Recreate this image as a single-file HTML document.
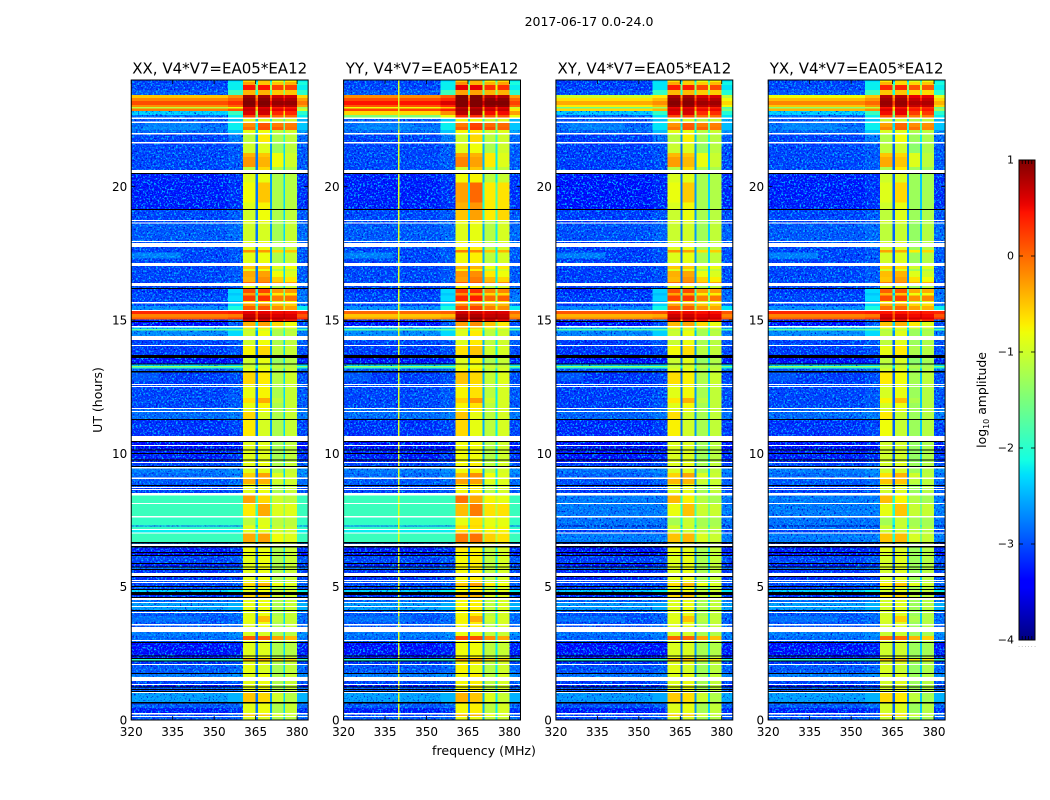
<!DOCTYPE html>
<html lang="en">
<head>
<meta charset="utf-8">
<title>2017-06-17 0.0-24.0</title>
<style>
html,body{margin:0;padding:0;background:#fff;}
svg{display:block;font-family:"DejaVu Sans","Liberation Sans",sans-serif;}
</style>
</head>
<body>
<svg id="figure" xmlns="http://www.w3.org/2000/svg" width="1050" height="800" viewBox="0 0 1050 800">
  <defs>
    <filter id="speckle" filterUnits="userSpaceOnUse" x="0" y="0" width="1050" height="800" color-interpolation-filters="sRGB">
      <feTurbulence type="fractalNoise" baseFrequency="0.55" numOctaves="2" seed="7" result="n"/>
      <feColorMatrix in="n" type="matrix" values="0 0 0 0 0  0 0 0 0 0.72  0 0 0 0 1  5 0 0 0 -2.55" result="light"/>
      <feColorMatrix in="n" type="matrix" values="0 0 0 0 0  0 0 0 0 0  0 0 0 0 0.8  0 5 0 0 -2.9" result="dark"/>
      <feMerge result="m"><feMergeNode in="dark"/><feMergeNode in="light"/></feMerge>
      <feComposite in="m" in2="SourceAlpha" operator="in"/>
    </filter>
    <linearGradient id="colorbar-gradient" x1="0" y1="1" x2="0" y2="0"></linearGradient>
  </defs>
  <rect x="0" y="0" width="1050" height="800" fill="#fff"/>
  <text x="589" y="26" text-anchor="middle" font-size="12.5">2017-06-17 0.0-24.0</text>
  <text x="0" y="0" transform="translate(102 400) rotate(-90)" text-anchor="middle" font-size="12.5">UT (hours)</text>
  <text x="484" y="755" text-anchor="middle" font-size="12.6">frequency (MHz)</text>
  <text transform="translate(986 400) rotate(-90)" text-anchor="middle" font-size="12.4">log<tspan font-size="8" dy="3">10</tspan><tspan dy="-3"> amplitude</tspan></text>
  <g id="panels"></g>
  <g id="colorbar"></g>
</svg>
<script>
// ---------- chart data ----------
const panelNames = ['XX', 'YY', 'XY', 'YX'];
const panelTitleSuffix = ', V4*V7=EA05*EA12';
const freqTicks = [320, 335, 350, 365, 380];
const hourTicks = [0, 5, 10, 15, 20];
const colorTicks = [1, 0, -1, -2, -3, -4];
const colorTickLabels = ['1', '0', '\u22121', '\u22122', '\u22123', '\u22124'];
const freqRange = [320, 384];
const hourRange = [0, 24];
const colorRange = [-4, 1];
// frequency zones (MHz): low, ramp, s1, gap, s2, gap, s3, gap, s4, edge
const freqEdges = [320, 355, 360.4, 365, 365.8, 370.2, 370.9, 375, 375.7, 380, 384];
const quietBand = [-0.88, -0.82, -1.2, -1.05];
const quietGap = -2.6;
const gapOffsets = [-0.2, 0, 0.3];
const BLACK = -9;
// Time bands, top-down. Each starts at the listed hour and ends at the next row's hour.
// [hour] = blank (white); [hour,BLACK] = black line; [hour,low] = quiet band;
// [hour,low,s1,s2,s3,s4]; [hour,low,ramp,s1,s2,s3,s4,gap,edge]
const bandRows = [
[24.00,-3.1,-2.3,-0.6,-0.5,-0.8,-0.7,-2.2,-2.2],
[23.93,-3.1,-2.2,-0.3,-0.5,-0.5,-0.4,-1.8,-2.1],
[23.81,-3.1,-2.2,0.45,0.45,0.2,0.2,-1.2,-2.2],
[23.63,-3.0,-1.9,-0.4,-0.4,-0.5,-0.5,-1.8,-2.0],
[23.44,-0.5,-0.2,0.85,0.85,0.65,0.65,0,-0.6],
[23.33,-0.15,0.05,0.95,0.95,0.8,0.8,0.2,-0.3],
[23.21,0.15,0.3,1.0,1.0,0.9,0.9,0.5,-0.1],
[23.06,-0.2,0.05,0.95,0.95,0.8,0.8,0.3,-0.3],
[22.99,-1.1,-0.8,0.55,0.55,0.4,0.4,-0.4,-1.3],
[22.93,-0.1,0.1,0.7,0.7,0.55,0.55,-0.2,-1.0],
[22.84,-2.3,-1.9,0.6,0.65,0.35,0.35,-1,-2.0],
[22.69,-2.9,-2.2,0.2,0.2,0,0,-1.4,-2.2],
[22.59],
[22.54,-3.0,-2.4,-0.9,-0.9,-1.1,-1.0,-2.2,-2.5],
[22.44],
[22.39,-2.9,-2.2,-0.2,0.1,-0.1,-0.1,-2,-2.4],
[22.24,-2.8,-2.2,-0.05,0.15,0.05,-0.05,-1.9,-2.4],
[22.13,-2.9,-2.4,-0.85,-0.8,-1.1,-1.0,-2.2,-2.6],
[22.01],
[21.96,-3.1,-2.8,-1.1,-0.7,-1.2,-1.1,-2.4,-2.9],
[21.68],
[21.62,-3.1,-1.0,-0.9,-1.3,-1.1],
[21.26,-3.1,-0.4,-0.5,-0.8,-1.0],
[21.11,-3.1,-0.25,-0.4,-0.8,-1.0],
[20.74,-3.1,-1.1,-0.6,-1.2,-1.2],
[20.63],
[20.51,BLACK],
[20.48,-3.3,-0.9,-0.85,-1.2,-1.15],
[20.15,-3.3,-0.8,-0.5,-1.2,-1.15],
[19.40,-3.3,-0.9,-0.75,-1.2,-1.15],
[19.16,BLACK],
[19.13,-3.1,-1.0,-0.8,-1.2,-1.1],
[18.75],
[18.71,-3.1],
[18.66],
[18.62,-3.0,-1.0,-0.95,-1.25,-1.05],
[17.96],
[17.93,-3.0],
[17.89],
[17.74,-3.1],
[17.63,-3.1,-0.2,-0.25,-0.6,-0.5],
[17.53,-3.1],
[17.14],
[17.03,-3.1,-0.5,-0.5,-0.9,-0.8],
[16.91,-3.1],
[16.84,-3.1,-0.35,-0.3,-0.8,-0.9],
[16.61,-3.1,-0.4,-0.2,-0.55,-0.7],
[16.43,-3.1,0,0,-0.3,-0.3],
[16.39],
[16.28,-3.1],
[16.20,BLACK],
[16.16,-3.2,-2.3,0.15,0.2,-0.25,-0.25,-1.7,-2.9],
[16.01,-3.1,-2.4,-0.3,-0.4,-0.7,-0.7,-2.2,-2.9],
[15.92,-3.1,-2.3,0.25,0.3,-0.1,-0.05,-1.5,-2.8],
[15.71,-3.1,-2.5,-0.7,-0.7,-0.9,-0.8,-2.2,-2.8],
[15.68],
[15.62,-3.1,-2.3,-0.3,-0.25,-0.5,-0.55,-1.9,-2.8],
[15.53,-2.7,-2.1,0.05,0.1,-0.2,-0.3,-1.3,-2.2],
[15.38],
[15.34,0.35,0.4,0.55,0.55,0.5,0.5,0.3,0.35],
[15.22,-0.15,-0.1,0.7,0.7,0.6,0.6,0.4,0.1],
[15.09,0.05,0.2,0.85,0.85,0.75,0.7,0.5,0.3],
[15.02,-3.3,-2.8,0.6,0.55,0.5,0.4,-0.3,-3.0],
[14.96,BLACK],
[14.93,-3.4,-3.0,-0.4,-0.3,-0.6,-0.8,-2,-3.1],
[14.78],
[14.72,-2.4,-2.4,-0.7,-0.7,-0.9,-0.9,-2.2,-2.5],
[14.66,-1.7,-1.7,-1.1,-1.0,-1.2,-1.2,-2,-1.8],
[14.61,-2.7,-2.3,-1.0,-0.8,-1.2,-1.1,-2.4,-2.8],
[14.40],
[14.25,-3.1,-1.0,-0.8,-1.2,-1.1],
[14.06],
[14.03,-3.15,-0.75,-0.6,-1.1,-1.05],
[13.69,BLACK],
[13.58,-3.4,-1.0,-0.85,-1.3,-1.15],
[13.37,BLACK],
[13.33,-2.3,-2.3,-1.1,-1.0,-1.2,-1.2,-2.2,-2.3],
[13.28,-1.3,-1.3,-1.0,-0.9,-1.1,-1.1,-1.8,-1.4],
[13.24,-1.9,-1.9,-1.0,-0.9,-1.1,-1.1,-2,-2.0],
[13.18,-3.0],
[13.09,BLACK],
[13.03,-3.15,-0.6,-0.7,-1.15,-1.0],
[12.60],
[12.56,-3.1],
[12.53],
[12.49,-3.1,-0.85,-0.75,-1.2,-1.05],
[12.08,-3.1,-0.65,-0.35,-1.1,-1.05],
[11.89,-3.1,-0.85,-0.75,-1.2,-1.05],
[11.70],
[11.66,-2.9],
[11.59],
[11.55,-2.9,-0.6,-0.95,-1.2,-1.05],
[11.29,BLACK],
[11.25,-3.2,-0.7,-0.95,-1.2,-1.05],
[10.65],
[10.46,BLACK],
[10.43,-3.4,-0.9,-0.9,-1.25,-1.1],
[10.31],
[10.28,-3.5,-0.9,-0.9,-1.25,-1.1],
[10.14,BLACK],
[10.11,-3.3,-0.9,-0.9,-1.25,-1.1],
[10.01,BLACK],
[9.98,-3.3,-0.9,-0.9,-1.25,-1.1],
[9.77,BLACK],
[9.73,-3.3,-0.9,-0.9,-1.25,-1.1],
[9.68],
[9.64,-3.1],
[9.53,BLACK],
[9.49],
[9.43,-2.8,-0.9,-0.85,-1.2,-1.05],
[9.26,-2.9,-0.55,-0.3,-0.9,-1.0],
[9.09],
[9.04,-3.0,-0.4,-0.4,-1.0,-1.0],
[8.85,-3.0,-0.85,-0.85,-1.2,-1.05],
[8.81,BLACK],
[8.78,-3.1],
[8.74],
[8.70,-3.2],
[8.66],
[8.63,-3.1],
[8.51],
[8.42,-1.9,-1.9,-0.3,-0.6,-1.0,-1.1,-1.7,-1.9],
[8.14],
[8.10,-1.9,-1.9,-0.7,-0.35,-0.9,-0.9,-1.7,-1.9],
[7.65],
[7.59,-1.95,-1.95,-1.1,-0.9,-1.1,-1.1,-1.8,-1.95],
[7.29,-2.9,-2.9,-0.8,-0.8,-1.1,-1.1,-2.4,-2.9],
[7.26,-1.95,-1.95,-0.9,-0.9,-1.0,-1.0,-1.8,-1.95],
[7.16],
[7.13,-2.2,-2.2,-0.9,-0.9,-1.0,-1.0,-2,-2.2],
[7.03],
[6.99,-1.9,-1.9,-0.35,-0.3,-0.8,-0.9,-1.7,-1.9],
[6.68,BLACK],
[6.62,-2.8],
[6.60],
[6.53,BLACK],
[6.47,-3.3,-0.8,-0.85,-1.2,-1.05],
[6.30,BLACK],
[6.26,-3.5],
[6.19,BLACK],
[6.15,-3.1],
[5.89,BLACK],
[5.85,-3.3],
[5.76,BLACK],
[5.72,-2.9],
[5.66,BLACK],
[5.63,-3.2],
[5.51],
[5.40,BLACK],
[5.36,-3.2],
[5.25],
[5.21,-3.0],
[5.18],
[5.14,-3.1,-0.6,-0.4,-0.8,-0.9],
[5.03,BLACK],
[4.99,-3.1],
[4.91,BLACK],
[4.88,-2.3,-0.9,-0.8,-1.1,-1.0],
[4.80,BLACK],
[4.69,-3.2,-0.6,-0.5,-1.0,-1.0],
[4.61,BLACK],
[4.58],
[4.50,-2.9],
[4.43],
[4.39,-2.6],
[4.28],
[4.24,-2.6],
[4.13,BLACK],
[4.09,-3.0],
[4.05],
[4.01,-3.0],
[3.90,-3.0,-0.85,-0.45,-1.1,-1.05],
[3.68,-3.0],
[3.60],
[3.54,-3.0],
[3.49],
[3.30,-2.8,-0.95,-0.95,-1.2,-1.15],
[3.15,-2.9,0.05,0.05,-0.3,-0.45],
[3.00],
[2.96,-3.0],
[2.93,BLACK],
[2.89,-3.4,-0.9,-0.9,-1.2,-1.15],
[2.42,BLACK],
[2.38,-3.3],
[2.33,BLACK],
[2.29,-2.0,-0.3,-0.3,-0.6,-0.6],
[2.23,BLACK],
[2.19,-3.2],
[2.10],
[2.06,-3.0,-0.85,-0.95,-1.25,-1.1],
[1.76,BLACK],
[1.73,-2.8],
[1.61],
[1.46,-3.1],
[1.35],
[1.31,-3.4],
[1.26,BLACK],
[1.22,-3.0],
[1.16,BLACK],
[1.13,-3.0],
[1.09,BLACK],
[1.05],
[1.01,-2.6,-0.5,-0.6,-1.0,-1.15],
[0.68,BLACK],
[0.62,-3.0],
[0.45,-3.3],
[0.26],
[0.21,-3.1,-0.5,-0.5,-0.9,-1.0],
[0.15],
[0.11,-3.0,-0.95,-0.95,-1.2,-1.15]
];
// Per-panel adjustments: [hourFrom, hourTo, lowDelta, bandDelta]
const xxAdjust = [];
const yyAdjust = [
  [24, 0, 0, 0.1],
  [23.5, 22.7, 0.3, 0.05],
  [22.86, 22.6, 1.4, 0],
  [20.4, 18.9, 0, 0.4],
  [15.35, 15.03, -0.35, 0],
  [8.5, 6.6, 0, 0.15]
];
const xyAdjust = [
  [24, 0, -0.05, -0.03],
  [23.5, 22.9, -0.45, 0],
  [8.5, 6.6, -0.85, -0.1],
  [15.35, 15.03, -0.2, 0]
];
const yxAdjust = [
  [24, 0, 0, -0.1],
  [23.5, 22.9, -0.3, 0],
  [8.5, 6.6, -0.9, -0.05]
];
const panelAdjust = [xxAdjust, yyAdjust, xyAdjust, yxAdjust];
// Low-frequency patches: [hourTop, hourBottom, freqFrom, freqTo, level]
const lowPatches = [
  [17.53, 17.30, 320, 338, -2.4],
  [22.39, 22.13, 325, 345, -2.6],
  [3.90, 3.68, 320, 345, -2.7],
  [13.03, 12.70, 320, 330, -2.8]
];
// Narrow RFI channels per panel: [freq, level]
const panelRfi = [[], [[339.7, -0.9]], [], []];

// jet colormap knots
const jetR = [[0, 0], [0.35, 0], [0.66, 1], [0.89, 1], [1, 0.5]];
const jetG = [[0, 0], [0.125, 0], [0.375, 1], [0.64, 1], [0.91, 0], [1, 0]];
const jetB = [[0, 0.5], [0.11, 1], [0.34, 1], [0.65, 0], [1, 0]];

// ---------- geometry and scales ----------
const panelLefts = [131.25, 343.6, 555.9, 768.2];
const panelWidth = 176.9;
const plotTop = 80, plotBottom = 720;
const cbLeft = 1019, cbRight = 1035, cbTop = 160, cbBottom = 640;
const NS = 'http://www.w3.org/2000/svg';

function fx(panel, f) { return panelLefts[panel] + (f - freqRange[0]) / (freqRange[1] - freqRange[0]) * panelWidth; }
function hy(h) { return plotBottom - (h - hourRange[0]) / (hourRange[1] - hourRange[0]) * (plotBottom - plotTop); }
function cy(v) { return cbBottom - (v - colorRange[0]) / (colorRange[1] - colorRange[0]) * (cbBottom - cbTop); }
function knot(table, t) {
  for (let i = 1; i < table.length; i++) {
    if (t <= table[i][0]) {
      const a = table[i - 1], b = table[i];
      return a[1] + (b[1] - a[1]) * (t - a[0]) / (b[0] - a[0]);
    }
  }
  return table[table.length - 1][1];
}
function jet(v) {
  if (v === BLACK) return '#000';
  const t = Math.max(0, Math.min(1, (v - colorRange[0]) / (colorRange[1] - colorRange[0])));
  return 'rgb(' + Math.round(knot(jetR, t) * 255) + ',' + Math.round(knot(jetG, t) * 255) + ',' + Math.round(knot(jetB, t) * 255) + ')';
}
function node(tag, attrs, parent) {
  const el = document.createElementNS(NS, tag);
  for (const k in attrs) el.setAttribute(k, attrs[k]);
  parent.appendChild(el);
  return el;
}
// Expand one row into its 10 zone values for a panel, or null when blank / black.
function zoneLevels(row, adjust) {
  let low, ramp, band, gap, edge;
  if (row.length === 2) {
    low = row[1]; ramp = low + 0.1; band = quietBand.slice(); gap = quietGap; edge = low + 0.1;
  } else if (row.length === 6) {
    low = row[1]; ramp = low + 0.1; band = row.slice(2, 6); gap = quietGap; edge = low + 0.1;
  } else {
    low = row[1]; ramp = row[2]; band = row.slice(3, 7); gap = row[7]; edge = row[8];
  }
  adjust.forEach(function (a) {
    if (row[0] <= a[0] && row[0] > a[1]) {
      low += a[2]; ramp += a[2]; edge += a[2];
      band = band.map(function (b) { return b + a[3]; });
      gap += a[3];
    }
  });
  return [low, ramp, band[0], gap + gapOffsets[0], band[1], gap + gapOffsets[1], band[2], gap + gapOffsets[2], band[3], edge];
}

// ---------- draw panels ----------
const panelsRoot = document.getElementById('panels');
panelNames.forEach(function (name, p) {
  const g = node('g', {}, panelsRoot);
  
  
  const left = fx(p, freqRange[0]), right = fx(p, freqRange[1]);

  const cells = node('g', { 'shape-rendering': 'crispEdges' }, g);
  
  
  const speckles = node('g', { filter: 'url(#speckle)', 'shape-rendering': 'crispEdges' }, g);
  
  
  const overlays = node('g', { 'shape-rendering': 'crispEdges' }, g);
  
  

  bandRows.forEach(function (row, r) {
    const top = row[0];
    const bottom = r + 1 < bandRows.length ? bandRows[r + 1][0] : hourRange[0];
    const y0 = hy(top), y1 = hy(bottom);
    if (row.length === 1) return;
    if (row[1] === BLACK) {
      const line = node('rect', { x: left, y: y0, width: right - left, height: y1 - y0, fill: '#000' }, overlays);
      
      
      return;
    }
    const levels = zoneLevels(row, panelAdjust[p]);
    levels.forEach(function (v, z) {
      const x0 = fx(p, freqEdges[z]), x1 = fx(p, freqEdges[z + 1]);
      const cell = node('rect', { x: x0, y: y0, width: x1 - x0, height: y1 - y0, fill: jet(v) }, cells);
      
      
    });
    if (levels[0] < -2.25) {
      const rightEdge = levels[1] < -2.6 ? freqEdges[2] : freqEdges[1];
      const n1 = node('rect', { x: fx(p, freqEdges[0]), y: y0, width: fx(p, rightEdge) - fx(p, freqEdges[0]), height: y1 - y0, fill: '#fff' }, speckles);
      
      
    }
    if (levels[9] < -2.5) {
      const n2 = node('rect', { x: fx(p, freqEdges[9]), y: y0, width: fx(p, freqEdges[10]) - fx(p, freqEdges[9]), height: y1 - y0, fill: '#fff' }, speckles);
      
      
    }
    panelRfi[p].forEach(function (c) {
      const rfi = node('rect', { x: fx(p, c[0]), y: y0, width: fx(p, c[0] + 0.5) - fx(p, c[0]), height: y1 - y0, fill: jet(c[1]) }, overlays);
      
      
    });
  });

  lowPatches.forEach(function (q) {
    const patch = node('rect', { x: fx(p, q[2]), y: hy(q[0]), width: fx(p, q[3]) - fx(p, q[2]), height: hy(q[1]) - hy(q[0]), fill: jet(q[4]), opacity: 0.45 }, overlays);
    
    
  });

  const frame = node('rect', { x: left, y: plotTop, width: right - left, height: plotBottom - plotTop, fill: 'none', stroke: '#000', 'stroke-width': 1 }, g);
  
  

  freqTicks.forEach(function (f) {
    const x = fx(p, f);
    const t1 = node('line', { x1: x, x2: x, y1: plotBottom, y2: plotBottom - 4, stroke: '#000', 'stroke-width': 0.8 }, g);
    
    
    const t2 = node('line', { x1: x, x2: x, y1: plotTop, y2: plotTop + 4, stroke: '#000', 'stroke-width': 0.8 }, g);
    
    
    const lab = node('text', { x: x, y: 736, 'text-anchor': 'middle', 'font-size': 12 }, g);
    lab.textContent = String(f);
    
    
  });
  hourTicks.forEach(function (h) {
    const y = hy(h);
    const t1 = node('line', { x1: left, x2: left + 4, y1: y, y2: y, stroke: '#000', 'stroke-width': 0.8 }, g);
    
    
    const t2 = node('line', { x1: right, x2: right - 4, y1: y, y2: y, stroke: '#000', 'stroke-width': 0.8 }, g);
    
    
    const lab = node('text', { x: left - 4, y: y + 4.5, 'text-anchor': 'end', 'font-size': 12 }, g);
    lab.textContent = String(h);
    
    
  });
  const title = node('text', { x: (left + right) / 2, y: 73.5, 'text-anchor': 'middle', 'font-size': 15 }, g);
  title.textContent = name + panelTitleSuffix;
  
  
});

// ---------- colorbar ----------
const gradient = document.getElementById('colorbar-gradient');
for (let i = 0; i <= 64; i++) {
  const off = i / 64;
  node('stop', { offset: off, 'stop-color': jet(colorRange[0] + off * (colorRange[1] - colorRange[0])) }, gradient);
}
const cbRoot = document.getElementById('colorbar');
const cbBody = node('rect', { x: cbLeft, y: cbTop, width: cbRight - cbLeft, height: cbBottom - cbTop, fill: 'url(#colorbar-gradient)', stroke: '#000', 'stroke-width': 1 }, cbRoot);


colorTicks.forEach(function (v, i) {
  const y = cy(v);
  const a = node('line', { x1: cbLeft, x2: cbLeft + 4, y1: y, y2: y, stroke: '#000', 'stroke-width': 0.8 }, cbRoot);
  
  
  const b = node('line', { x1: cbRight, x2: cbRight - 4, y1: y, y2: y, stroke: '#000', 'stroke-width': 0.8 }, cbRoot);
  
  
  const lab = node('text', { x: cbLeft - 5, y: y + 3.5, 'text-anchor': 'end', 'font-size': 11 }, cbRoot);
  lab.textContent = colorTickLabels[i];
  
  
});
const cbMinorFractions = [0, 0.2, 0.4, 0.6, 0.8, 1];
cbMinorFractions.forEach(function (fr) {
  const x = cbLeft + fr * (cbRight - cbLeft);
  const top = node('line', { x1: x, x2: x, y1: cbTop, y2: cbTop + 4, stroke: '#000', 'stroke-width': 0.8 }, cbRoot);
  
  
  const bot = node('line', { x1: x, x2: x, y1: cbBottom, y2: cbBottom - 4, stroke: '#000', 'stroke-width': 0.8 }, cbRoot);
  
  
  const dot = node('text', { x: x, y: 647, 'text-anchor': 'middle', 'font-size': 5, fill: '#555' }, cbRoot);
  dot.textContent = '.';
  
  
});
</script>
</body>
</html>
